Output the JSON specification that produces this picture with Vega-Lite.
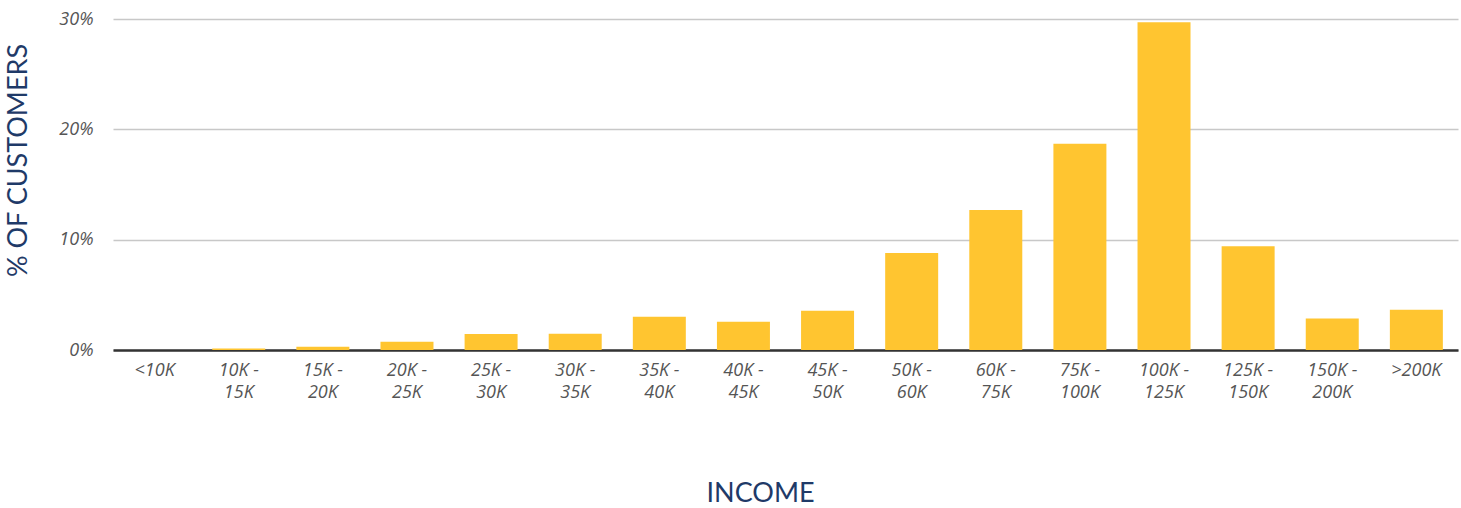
{
  "$schema": "https://vega.github.io/schema/vega-lite/v6.json",
  "autosize": {"type": "none"},
  "padding": {"left": 113, "top": 19, "right": 3, "bottom": 158},
  "width": 1345,
  "height": 331,
  "background": "white",
  "config": {"view": {"stroke": null}},
  "data": {
    "values": [
      {"income": "<10K", "pct": 0.0},
      {"income": "10K - 15K", "pct": 0.13},
      {"income": "15K - 20K", "pct": 0.3},
      {"income": "20K - 25K", "pct": 0.75},
      {"income": "25K - 30K", "pct": 1.45},
      {"income": "30K - 35K", "pct": 1.48},
      {"income": "35K - 40K", "pct": 3.02},
      {"income": "40K - 45K", "pct": 2.57},
      {"income": "45K - 50K", "pct": 3.56},
      {"income": "50K - 60K", "pct": 8.8},
      {"income": "60K - 75K", "pct": 12.7},
      {"income": "75K - 100K", "pct": 18.7},
      {"income": "100K - 125K", "pct": 29.7},
      {"income": "125K - 150K", "pct": 9.4},
      {"income": "150K - 200K", "pct": 2.85},
      {"income": ">200K", "pct": 3.65}
    ]
  },
  "mark": {"type": "bar", "color": "#FFC530"},
  "encoding": {
    "x": {
      "field": "income",
      "type": "nominal",
      "sort": null,
      "scale": {"paddingInner": 0.37, "paddingOuter": 0.18},
      "axis": {
        "title": "INCOME",
        "titleFont": "Lato",
        "titleFontSize": 27,
        "titleFontWeight": "normal",
        "titleColor": "#1F3A68",
        "titlePadding": 79,
        "titleX": 647,
        "labelAngle": 0,
        "labelFont": "Open Sans",
        "labelFontStyle": "italic",
        "labelFontSize": 18,
        "labelColor": "#555555",
        "labelPadding": 11,
        "labelLineHeight": 22,
        "labelExpr": "datum.label == '<10K' || datum.label == '>200K' ? datum.label : [split(datum.label, ' ')[0] + ' -', split(datum.label, ' ')[2]]",
        "ticks": false,
        "domainColor": "#333333",
        "domainWidth": 2.5,
        "grid": false
      }
    },
    "y": {
      "field": "pct",
      "type": "quantitative",
      "scale": {"domain": [0, 30]},
      "axis": {
        "title": "% OF CUSTOMERS",
        "titleFont": "Lato",
        "titleFontSize": 27,
        "titleFontWeight": "normal",
        "titleColor": "#1F3A68",
        "titleX": -95,
        "titleY": 141,
        "titleAngle": -90,
        "titleAlign": "center",
        "titleBaseline": "middle",
        "values": [0, 10, 20, 30],
        "labelExpr": "datum.value + '%'",
        "labelFont": "Open Sans",
        "labelFontStyle": "italic",
        "labelFontSize": 18,
        "labelColor": "#555555",
        "labelPadding": 20,
        "ticks": false,
        "domain": false,
        "grid": true,
        "gridColor": "#C8C8C8",
        "gridWidth": 1.5
      }
    }
  }
}
